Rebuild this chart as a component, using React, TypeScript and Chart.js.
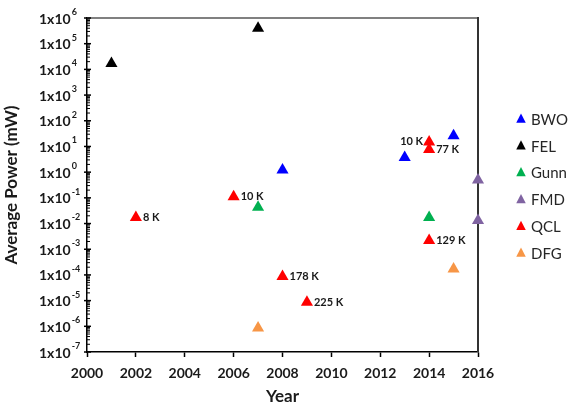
import React, { useEffect, useRef } from "react";
import { Chart, registerables } from "chart.js";

Chart.register(...registerables);

// ---- data ----
const seriesNames = ["BWO", "FEL", "Gunn", "FMD", "QCL", "DFG"];
const seriesColors = ["#0000FF", "#000000", "#00B050", "#8064A2", "#FF0000", "#F79646"];

const bwoYears = [2008, 2013, 2015];
const bwoPower = [1.2, 3.7, 26];
const felYears = [2001, 2007];
const felPower = [1.7e4, 4e5];
const gunnYears = [2007, 2014];
const gunnPower = [0.043, 0.017];
const fmdYears = [2016, 2016];
const fmdPower = [0.5, 0.013];
const qclYears = [2002, 2006, 2008, 2009, 2014, 2014, 2014];
const qclPower = [0.017, 0.11, 8.6e-5, 8.6e-6, 15, 7.7, 0.0022];
const qclLabels = ["8 K", "10 K", "178 K", "225 K", "10 K", "77 K", "129 K"];
const qclLabelSide = ["right", "right", "right", "right", "left", "right", "right"];
const dfgYears = [2007, 2015];
const dfgPower = [8.6e-7, 1.7e-4];

const yExponents = [-7, -6, -5, -4, -3, -2, -1, 0, 1, 2, 3, 4, 5, 6];
const xTickYears = [2000, 2002, 2004, 2006, 2008, 2010, 2012, 2014, 2016];

const allYears = [bwoYears, felYears, gunnYears, fmdYears, qclYears, dfgYears];
const allPower = [bwoPower, felPower, gunnPower, fmdPower, qclPower, dfgPower];

const FONT = "Lato, 'Open Sans', sans-serif";

const overlayPlugin = {
  id: "overlay",
  beforeDatasetsDraw(chart: any) {
    const { ctx, chartArea: ca, scales } = chart;
    const y = scales.y;
    ctx.save();
    // top frame line
    ctx.strokeStyle = "#808080";
    ctx.lineWidth = 2;
    ctx.beginPath();
    ctx.moveTo(ca.left, ca.top);
    ctx.lineTo(ca.right, ca.top);
    ctx.stroke();
    // right frame line
    ctx.strokeStyle = "#333333";
    ctx.beginPath();
    ctx.moveTo(ca.right, ca.top - 1);
    ctx.lineTo(ca.right, ca.bottom);
    ctx.stroke();
    // y ticks (major + minor)
    ctx.strokeStyle = "#000";
    for (const e of yExponents) {
      const py = y.getPixelForValue(Math.pow(10, e));
      ctx.lineWidth = 1.5;
      ctx.beginPath();
      ctx.moveTo(ca.left - 3, py);
      ctx.lineTo(ca.left + 4, py);
      ctx.stroke();
      if (e < yExponents[yExponents.length - 1]) {
        ctx.lineWidth = 1;
        for (let k = 2; k <= 9; k++) {
          const pm = y.getPixelForValue(k * Math.pow(10, e));
          ctx.beginPath();
          ctx.moveTo(ca.left - 1, pm);
          ctx.lineTo(ca.left + 3, pm);
          ctx.stroke();
        }
      }
    }
    // y tick labels
    ctx.fillStyle = "#1a1a1a";
    ctx.textAlign = "left";
    ctx.textBaseline = "middle";
    for (const e of yExponents) {
      const py = y.getPixelForValue(Math.pow(10, e));
      ctx.font = `bold 14px ${FONT}`;
      ctx.fillText("1x10", 39, py + 1);
      const w = ctx.measureText("1x10").width;
      ctx.font = `bold 9px ${FONT}`;
      ctx.fillText(String(e), 39 + w + 1, py - 6);
    }
    ctx.restore();
  },
  afterDraw(chart: any) {
    const { ctx, scales } = chart;
    const x = scales.x;
    const y = scales.y;
    ctx.save();
    // QCL temperature labels
    ctx.font = `bold 11px ${FONT}`;
    ctx.fillStyle = "#1a1a1a";
    ctx.textBaseline = "middle";
    qclYears.forEach((yr, i) => {
      const px = x.getPixelForValue(yr);
      const py = y.getPixelForValue(qclPower[i]);
      if (qclLabelSide[i] === "left") {
        ctx.textAlign = "right";
        ctx.fillText(qclLabels[i], px - 6, py);
      } else {
        ctx.textAlign = "left";
        ctx.fillText(qclLabels[i], px + 7, py);
      }
    });
    // legend
    const lx = 521;
    const ly0 = 119;
    const step = 26.8;
    seriesNames.forEach((name, i) => {
      const cy = ly0 + i * step;
      ctx.fillStyle = seriesColors[i];
      const r = 5.5;
      ctx.beginPath();
      ctx.moveTo(lx, cy - r);
      ctx.lineTo(lx + r * 0.866, cy + r * 0.5 + 1);
      ctx.lineTo(lx - r * 0.866, cy + r * 0.5 + 1);
      ctx.closePath();
      ctx.fill();
      ctx.fillStyle = "#262626";
      ctx.font = `15px ${FONT}`;
      ctx.textAlign = "left";
      ctx.textBaseline = "middle";
      ctx.fillText(name, lx + 10, cy + 1);
    });
    ctx.restore();
  },
};

export default function App() {
  const canvasRef = useRef<HTMLCanvasElement | null>(null);

  useEffect(() => {
    if (!canvasRef.current) return;
    const datasets = seriesNames.map((name, i) => ({
      label: name,
      data: allYears[i].map((yr, j) => ({ x: yr, y: allPower[i][j] })),
      pointStyle: "triangle",
      pointRadius: 7,
      pointHoverRadius: 7,
      backgroundColor: seriesColors[i],
      borderColor: seriesColors[i],
      borderWidth: 0,
      showLine: false,
      clip: false,
    }));
    const chart = new Chart(canvasRef.current, {
      type: "scatter",
      data: { datasets } as any,
      options: {
        animation: false,
        responsive: true,
        maintainAspectRatio: false,
        layout: { padding: { top: 18, right: 97, left: 0, bottom: 0 } },
        plugins: {
          legend: { display: false },
          tooltip: { enabled: false },
        },
        scales: {
          x: {
            type: "linear",
            min: 2000,
            max: 2016,
            afterBuildTicks: (scale: any) => {
              scale.ticks = xTickYears.map((v) => ({ value: v }));
            },
            afterFit: (scale: any) => {
              scale.height = 62;
            },
            ticks: {
              stepSize: 2,
              padding: 8,
              color: "#1a1a1a",
              font: { family: FONT, size: 14, weight: "bold" },
              callback: (v: any) => String(v),
            },
            grid: {
              drawOnChartArea: false,
              tickLength: 5,
              tickColor: "#000",
              tickWidth: 1.5,
            },
            border: { display: true, color: "#000", width: 1.5 },
            title: {
              display: true,
              text: "Year",
              color: "#1a1a1a",
              font: { family: FONT, size: 17, weight: "bold" },
              padding: 7,
            },
          },
          y: {
            type: "logarithmic",
            min: 1e-7,
            max: 1e6,
            afterBuildTicks: (scale: any) => {
              scale.ticks = yExponents.map((e) => ({ value: Math.pow(10, e) }));
            },
            afterFit: (scale: any) => {
              scale.width = 87;
            },
            ticks: { display: false },
            grid: { drawOnChartArea: false, drawTicks: false },
            border: { display: true, color: "#000", width: 1.5 },
            title: {
              display: true,
              text: "Average Power (mW)",
              color: "#1a1a1a",
              font: { family: FONT, size: 17, weight: "bold" },
              padding: 1,
            },
          },
        },
      } as any,
      plugins: [overlayPlugin],
    });
    return () => chart.destroy();
  }, []);

  return (
    <div style={{ position: "fixed", left: 0, top: 0, width: 575, height: 414, background: "#fff" }}>
      <canvas ref={canvasRef} />
    </div>
  );
}
